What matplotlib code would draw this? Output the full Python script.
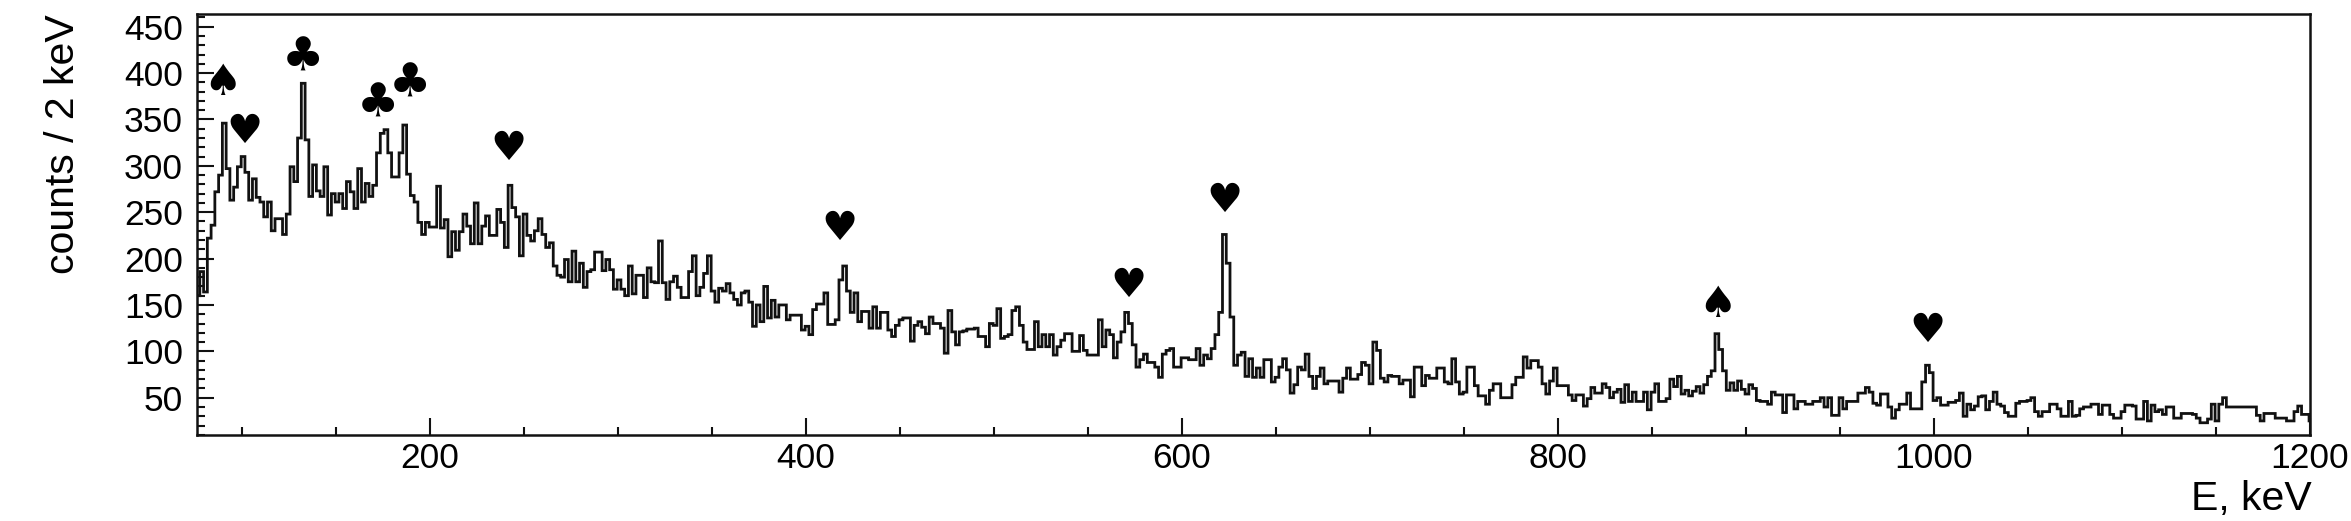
import numpy as np
import matplotlib
matplotlib.use("Agg")
import matplotlib.pyplot as plt
from matplotlib.ticker import MultipleLocator

plt.rcParams['font.family'] = ['Liberation Sans', 'DejaVu Sans']

# counts per 2 keV bin, first bin starts at ~75.5 keV
counts_075 = [160,186,164,222,236,272,290,346,297,263, 277,299,310,293,263,286,266,261,245,261,
              230,243,243,226,248,299,283,330,389,328, 267,301,273,267,299,247,270,261,270,254,
              283,272,254,297,261,281,267,279,314,335, 339,314,288,288,314,344,291,268,261,239,
              226,239,234,234,278,233,242,202,229,209, 229,248,235,216,260,216,235,246,225,225,
              253,239,212,279,255,245,203,248,225,219, 230,243,226,212,217,192,182,180,199,175,
              208,175,195,169,186,188,207,207,187,199, 188,167,177,167,160,192,162,182,182,158,
              190,175,174,219,174,156,175,181,169,158, 158,186,203,160,169,184,203,165,153,168,
              165,173,163,156,150,163,165,153,127,150, 132,170,136,155,137,150,150,134,139,139,
              139,123,127,118,145,151,151,163,129,129]
counts_415 = [134,177,192,165,142,163,132,143,143,125, 148,125,142,142,123,116,128,134,136,136,
              111,128,132,126,119,137,130,130,125,98, 144,121,107,121,122,124,124,125,116,116,
              105,130,128,146,114,116,118,144,148,128, 110,102,102,132,105,118,105,118,96,105,
              112,119,119,100,100,117,101,96,96,96, 134,105,123,118,93,110,121,142,130,107,
              83,91,97,88,88,83,72,97,101,103, 83,83,93,93,91,91,103,85,96,92,
              103,118,142,226,195,137,85,96,99,73, 92,72,82,72,91,91,67,72,83,92,
              80,55,64,83,80,97,73,60,73,82, 65,68,68,68,56,71,82,70,70,75,
              88,85,65,110,101,71,67,74,73,73, 65,69,69,51,83,83,63,74,71,71]
counts_735 = [82,82,67,65,92,67,54,56,83,83, 63,52,52,43,58,65,65,50,50,50,
              64,72,72,94,82,90,90,83,65,54, 68,82,63,63,63,53,47,53,53,41,
              49,61,55,55,65,61,50,56,59,45, 64,46,56,46,46,56,37,56,65,46,
              46,49,70,62,73,54,58,52,57,62, 55,64,73,79,119,102,79,58,66,58,
              68,59,54,64,60,47,46,46,43,56, 53,53,34,53,53,38,46,46,43,43,
              46,46,50,40,50,31,31,50,38,46, 46,46,55,55,61,56,44,42,54,54,
              40,28,37,43,43,55,38,38,38,67, 85,77,47,50,42,42,45,45,47,55,
              30,43,37,41,51,52,37,46,56,43, 41,34,30,30,44,46,46,47,50,35,
              30,35,35,43,43,38,30,30,46,30, 31,38,40,40,43,43,32,42,42,32,
              28,28,35,42,42,41,27,27,46,25, 42,35,37,32,40,40,28,28,33,33,
              33,32,28,23,23,27,43,25,43,50, 40,40,40,40,40,40,40,40,31,25,
              33,33,33,28,28,28,25,25,35,41, 32,32,25]

suits = ['♠','♥','♣','♣','♣','♥','♥','♥','♥','♠','♥']
suit_E = [89.4,101,132.4,172.0,189.2,241.5,417.6,571.3,622.3,884.6,996.3]
suit_c = [389,337,416,367,388,318,231.5,170,262,150,122]
suit_size = {'♠': 31, '♣': 34, '♥': 29}

x_major = [200,400,600,800,1000,1200]
y_major = [50,100,150,200,250,300,350,400,450]

W, H = 2351, 521
fig = plt.figure(figsize=(W/100, H/100), dpi=100)
ax = fig.add_axes([197/W, 1-435/H, (2310-197)/W, (435-14)/H])

values = np.array(counts_075 + counts_415 + counts_735, dtype=float)
edges = 75.5 + 2.0*np.arange(len(values)+1)
ax.stairs(values, edges, baseline=None, color='#111111', lw=2.0, fill=False)

ax.set_xlim(76, 1200)
ax.set_ylim(9.8, 463.7)
ax.set_xticks(x_major)
ax.set_yticks(y_major)
ax.xaxis.set_minor_locator(MultipleLocator(50))
ax.yaxis.set_minor_locator(MultipleLocator(10))
ax.tick_params(axis='both', which='major', direction='in', length=12, width=1.5,
               labelsize=25.5, top=False, right=False, color='#111111')
ax.tick_params(axis='both', which='minor', direction='in', length=6, width=1.5,
               top=False, right=False, color='#111111')
ax.tick_params(axis='x', which='major', pad=5)
ax.tick_params(axis='y', which='major', pad=10)
for s in ax.spines.values():
    s.set_linewidth(1.8)
    s.set_color('#111111')

for s, e, c in zip(suits, suit_E, suit_c):
    ax.text(e, c, s, fontsize=suit_size[s], family='DejaVu Sans', ha='center', va='center', color='black')

fig.text(63/W, 1-14/H, 'counts / 2 keV', rotation=90, fontsize=29.5, ha='center', va='top')
fig.text(2312/W, 1-518/H, 'E, keV', fontsize=29.5, ha='right', va='bottom')

fig.savefig('out.png', dpi=100)
